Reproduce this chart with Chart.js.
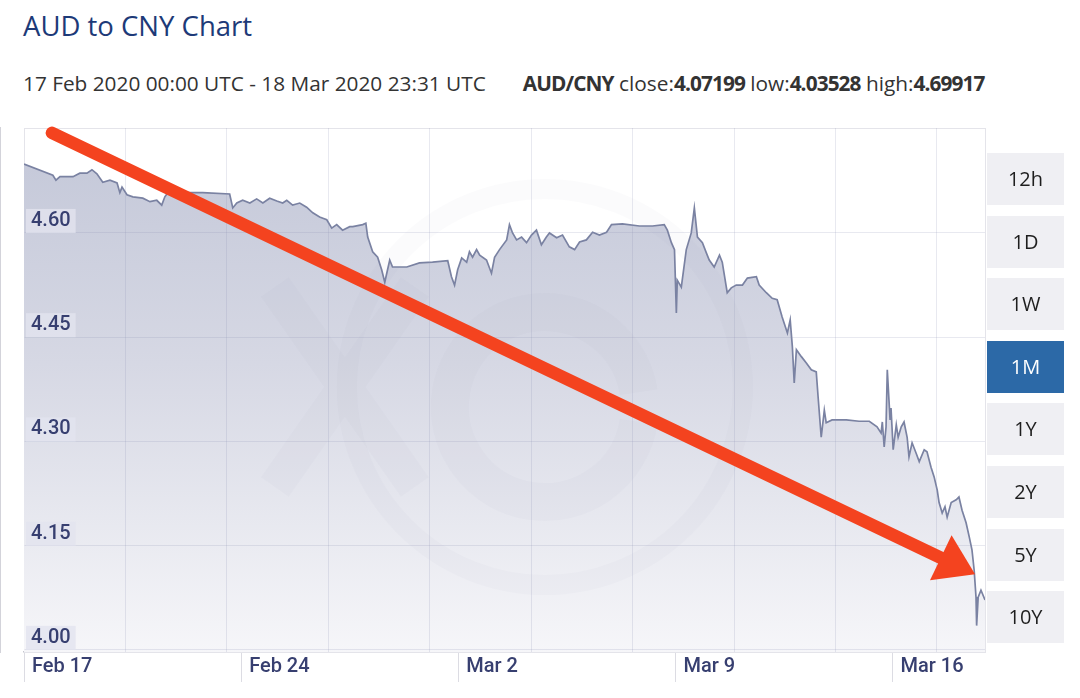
<!DOCTYPE html>
<html>
<head>
<meta charset="utf-8">
<script src="https://cdn.jsdelivr.net/npm/chart.js@4.4.0/dist/chart.umd.min.js"></script>
<style>
  html, body { margin: 0; padding: 0; background: #fff; }
  body { width: 1080px; height: 698px; position: relative; overflow: hidden; font-family: "Open Sans", sans-serif; }
  #title { position: absolute; left: 23px; top: 8px; font-size: 27.5px; line-height: 36px; color: #1d3a78; white-space: nowrap; }
  #sub { position: absolute; left: 23px; top: 69px; font-size: 20.8px; line-height: 28px; color: #333; white-space: nowrap; }
  #sub b { font-weight: 700; letter-spacing: -0.9px; }
  #pair { margin-left: 37px; }
  #wrap { position: absolute; left: 0; top: 100px; width: 990px; height: 598px; }
  #ranges { position: absolute; left: 987px; top: 153px; width: 77px; }
  .rng { height: 52px; margin-bottom: 10.6px; background: #efeff3; color: #1e1e1e; font-size: 20px; line-height: 52px; text-align: center; }
  .rng.on { background: #2c69a7; color: #fff; }
</style>
</head>
<body>
<div id="title">AUD to CNY Chart</div>
<div id="sub">17 Feb 2020 00:00 UTC - 18 Mar 2020 23:31 UTC<span id="pair"><b>AUD/CNY</b> close:<b>4.07199</b> low:<b>4.03528</b> high:<b>4.69917</b></span></div>
<div id="wrap"><canvas id="chart" width="990" height="598"></canvas></div>
<div id="ranges"></div>
<script>
// days since 17 Feb 2020 00:00 UTC
const days = [
  0, 0.93, 1.03, 1.16, 1.58, 1.80, 2.03, 2.19, 2.35, 2.54,
  2.77, 3.00, 3.09, 3.16, 3.32, 3.51, 3.83, 4.06, 4.28, 4.44,
  4.54, 4.64, 5.25, 5.76, 6.63, 6.73, 6.86, 7.05, 7.28, 7.50,
  7.70, 7.92, 8.15, 8.34, 8.47, 8.66, 8.89, 9.11, 9.31, 9.53,
  9.76, 9.92, 10.08, 10.27, 10.50, 10.60, 10.92, 11.02, 11.08, 11.24,
  11.40, 11.53, 11.63, 11.72, 11.79, 11.88, 12.34, 12.75, 13.17, 13.66,
  13.78, 13.88, 13.98, 14.11, 14.27, 14.36, 14.46, 14.59, 14.69, 14.91,
  15.07, 15.17, 15.33, 15.56, 15.65, 15.75, 15.88, 16.04, 16.20, 16.36,
  16.52, 16.68, 16.84, 16.94, 17.17, 17.36, 17.58, 17.75, 17.91, 18.13,
  18.33, 18.55, 18.78, 18.94, 19.29, 19.84, 20.26, 20.64, 20.74, 20.87,
  20.97, 21.03, 21.06, 21.19, 21.35, 21.51, 21.61, 21.71, 21.87, 22.00,
  22.09, 22.25, 22.42, 22.51, 22.67, 22.80, 22.96, 23.16, 23.32, 23.61,
  23.70, 23.93, 24.12, 24.28, 24.44, 24.61, 24.70, 24.77, 24.83, 24.90,
  25.06, 25.22, 25.38, 25.54, 25.60, 25.70, 25.80, 25.86, 26.05, 26.51,
  26.92, 27.25, 27.50, 27.63, 27.67, 27.73, 27.79, 27.83, 27.92, 27.95,
  28.02, 28.12, 28.18, 28.28, 28.37, 28.47, 28.53, 28.63, 28.76, 28.86,
  29.02, 29.11, 29.24, 29.34, 29.44, 29.50, 29.60, 29.69, 29.76, 29.89,
  30.05, 30.14, 30.24, 30.37, 30.47, 30.56, 30.63, 30.69, 30.71, 30.76,
  30.85, 30.98
];
const rates = [
  4.699, 4.683, 4.676, 4.681, 4.681, 4.686, 4.686, 4.691, 4.685, 4.673,
  4.676, 4.672, 4.658, 4.666, 4.655, 4.652, 4.650, 4.645, 4.647, 4.640,
  4.652, 4.658, 4.658, 4.658, 4.656, 4.636, 4.643, 4.647, 4.643, 4.649,
  4.643, 4.650, 4.646, 4.643, 4.647, 4.640, 4.643, 4.637, 4.629, 4.623,
  4.619, 4.607, 4.612, 4.604, 4.609, 4.609, 4.612, 4.614, 4.594, 4.573,
  4.565, 4.547, 4.529, 4.547, 4.561, 4.551, 4.551, 4.557, 4.558, 4.560,
  4.537, 4.525, 4.547, 4.564, 4.558, 4.573, 4.565, 4.576, 4.568, 4.561,
  4.542, 4.565, 4.576, 4.590, 4.612, 4.600, 4.590, 4.594, 4.586, 4.597,
  4.604, 4.583, 4.594, 4.600, 4.593, 4.597, 4.580, 4.576, 4.587, 4.590,
  4.601, 4.597, 4.601, 4.612, 4.613, 4.610, 4.610, 4.612, 4.604, 4.586,
  4.576, 4.485, 4.532, 4.522, 4.576, 4.600, 4.636, 4.594, 4.586, 4.571,
  4.561, 4.551, 4.568, 4.558, 4.514, 4.521, 4.525, 4.525, 4.535, 4.537,
  4.525, 4.514, 4.506, 4.504, 4.479, 4.456, 4.475, 4.436, 4.384, 4.432,
  4.422, 4.413, 4.403, 4.400, 4.364, 4.306, 4.345, 4.327, 4.331, 4.331,
  4.329, 4.329, 4.321, 4.312, 4.328, 4.292, 4.321, 4.403, 4.331, 4.348,
  4.288, 4.324, 4.306, 4.321, 4.328, 4.306, 4.278, 4.298, 4.283, 4.271,
  4.288, 4.285, 4.263, 4.249, 4.230, 4.212, 4.197, 4.206, 4.191, 4.212,
  4.216, 4.220, 4.201, 4.183, 4.163, 4.144, 4.115, 4.076, 4.035, 4.076,
  4.086, 4.072
];
const tickDays = [0, 7, 14, 21, 28];
const tickLabels = ['Feb 17', 'Feb 24', 'Mar 2', 'Mar 9', 'Mar 16'];
const rateTicks = [4.00, 4.15, 4.30, 4.45, 4.60];
const ranges = ['12h', '1D', '1W', '1M', '1Y', '2Y', '5Y', '10Y'];
const activeRange = '1M';
// red arrow drawn over the chart, in (day, rate)
const arrowFrom = [0.9, 4.744];
const arrowTo = [30.66, 4.109];

const gridStep = 3.27;
const labelFont = { family: 'Roboto, Liberation Sans, Arial, sans-serif', size: 20, weight: 500 };
const labelColor = '#373f70';
const gridColor = 'rgba(140,146,178,0.2)';

ranges.forEach(r => {
  const d = document.createElement('div');
  d.className = 'rng' + (r === activeRange ? ' on' : '');
  d.textContent = r;
  document.getElementById('ranges').appendChild(d);
});

const framePlugin = {
  id: 'frame',
  beforeDatasetsDraw(chart) {
    const { ctx, chartArea: a } = chart;
    ctx.save();
    ctx.strokeStyle = '#e4e4ea';
    ctx.lineWidth = 1;
    ctx.strokeRect(a.left + 0.5, a.top + 0.5, a.right - a.left, a.bottom - a.top);
    ctx.restore();
  }
};

const watermarkPlugin = {
  id: 'watermark',
  afterDatasetsDraw(chart) {
    const { ctx, chartArea: a } = chart;
    const cx = a.left + (a.right - a.left) * 0.542;
    const cy = (a.top + a.bottom) / 2 - 3;
    ctx.save();
    ctx.strokeStyle = 'rgba(120,126,165,0.03)';
    ctx.lineWidth = 20;
    ctx.beginPath();
    ctx.arc(cx, cy, 198, 0, Math.PI * 2);
    ctx.stroke();
    ctx.lineWidth = 38;
    ctx.beginPath();
    ctx.arc(cx, cy + 20, 95, 0.05 * Math.PI, 1.95 * Math.PI);
    ctx.stroke();
    ctx.lineWidth = 34;
    ctx.beginPath();
    ctx.moveTo(cx - 270, cy - 100); ctx.lineTo(cx - 130, cy + 100);
    ctx.moveTo(cx - 130, cy - 100); ctx.lineTo(cx - 270, cy + 100);
    ctx.stroke();
    ctx.restore();
  }
};

const arrowPlugin = {
  id: 'arrow',
  afterDraw(chart) {
    const { ctx } = chart;
    const xs = chart.scales.x, ys = chart.scales.y;
    const x0 = xs.getPixelForValue(arrowFrom[0]), y0 = ys.getPixelForValue(arrowFrom[1]);
    const x1 = xs.getPixelForValue(arrowTo[0]), y1 = ys.getPixelForValue(arrowTo[1]);
    const ang = Math.atan2(y1 - y0, x1 - x0);
    const c = Math.cos(ang), s = Math.sin(ang);
    const headLen = 38, headHalf = 25;
    const bx = x1 - headLen * c, by = y1 - headLen * s;
    ctx.save();
    ctx.strokeStyle = '#f4431f';
    ctx.fillStyle = '#f4431f';
    ctx.lineWidth = 12.5;
    ctx.lineCap = 'round';
    ctx.beginPath();
    ctx.moveTo(x0, y0);
    ctx.lineTo(bx + 4 * c, by + 4 * s);
    ctx.stroke();
    ctx.beginPath();
    ctx.moveTo(x1, y1);
    ctx.lineTo(bx - s * headHalf, by + c * headHalf);
    ctx.lineTo(bx + s * headHalf, by - c * headHalf);
    ctx.closePath();
    ctx.fill();
    ctx.restore();
  }
};

const ctx = document.getElementById('chart').getContext('2d');
new Chart(ctx, {
  type: 'line',
  data: {
    datasets: [{
      data: days.map((d, i) => ({ x: d, y: rates[i] })),
      borderColor: '#7a82a2',
      borderWidth: 1.7,
      pointRadius: 0,
      tension: 0,
      fill: 'start',
      backgroundColor: (c) => {
        const area = c.chart.chartArea;
        if (!area) return 'rgba(200,203,218,1)';
        const g = c.chart.ctx.createLinearGradient(0, area.top, 0, area.bottom);
        g.addColorStop(0, '#c3c7d8');
        g.addColorStop(0.45, '#d6d8e4');
        g.addColorStop(1, '#f6f6f9');
        return g;
      }
    }]
  },
  options: {
    responsive: false,
    animation: false,
    layout: { padding: { left: 24, top: 28, right: 5, bottom: 14 } },
    plugins: { legend: { display: false }, tooltip: { enabled: false } },
    scales: {
      x: {
        type: 'linear',
        position: 'bottom',
        min: 0,
        max: 30.98,
        afterBuildTicks: (a) => { a.ticks = tickDays.map(v => ({ value: v })); },
        afterFit: (a) => { a.height = 32; },
        ticks: {
          callback: (v, i) => tickLabels[i],
          align: 'start',
          labelOffset: 8,
          padding: -27,
          autoSkip: false,
          maxRotation: 0,
          color: labelColor,
          font: labelFont
        },
        grid: { drawOnChartArea: false, tickLength: 30, color: '#dcdce3' },
        border: { color: '#c4c5ce', width: 1.5 }
      },
      xg: {
        type: 'linear',
        position: 'bottom',
        min: 0,
        max: 30.98,
        afterBuildTicks: (a) => {
          const t = [];
          for (let v = gridStep; v < a.max; v += gridStep) t.push({ value: v });
          a.ticks = t;
        },
        afterFit: (a) => { a.height = 0; },
        ticks: { display: false },
        grid: { color: gridColor, drawTicks: false, z: 1 },
        border: { display: false }
      },
      y: {
        type: 'linear',
        position: 'left',
        min: 3.997,
        max: 4.751,
        afterBuildTicks: (a) => { a.ticks = rateTicks.map(v => ({ value: v })); },
        afterFit: (a) => { a.width = 0; },
        ticks: {
          mirror: true,
          padding: 7,
          labelOffset: -12,
          z: 2,
          callback: (v) => v.toFixed(2),
          color: labelColor,
          font: labelFont,
          showLabelBackdrop: true,
          backdropColor: 'rgba(226,228,239,0.8)',
          backdropPadding: { top: 0, bottom: 0, left: 5, right: 5 }
        },
        grid: { color: gridColor, drawTicks: false, z: 1 },
        border: { color: '#c4c5ce', width: 1.5 }
      }
    }
  },
  plugins: [framePlugin, watermarkPlugin, arrowPlugin]
});
</script>
</body>
</html>
